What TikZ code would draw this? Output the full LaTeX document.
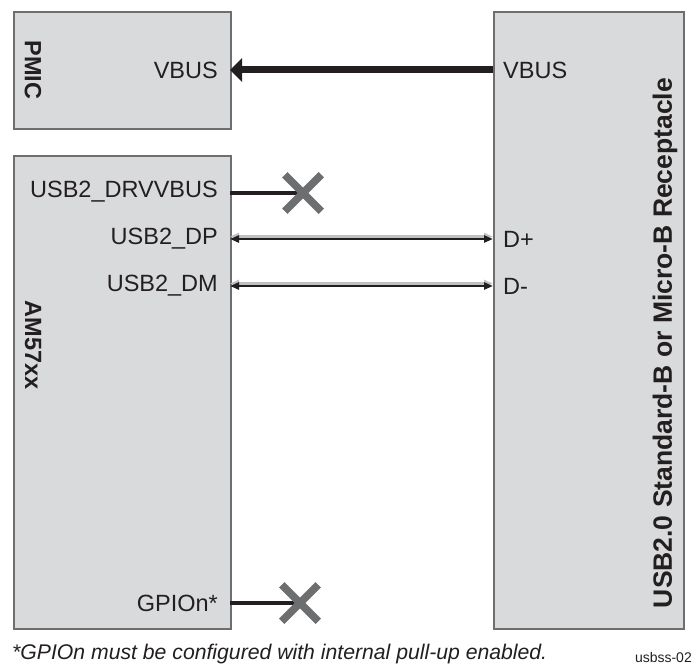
\documentclass[tikz,border=0pt]{standalone}
\usepackage{fontspec}
\setmainfont{Liberation Sans}
\usetikzlibrary{positioning,arrows.meta,shapes.misc}
\definecolor{boxfill}{HTML}{D9DADB}
\definecolor{boxline}{HTML}{6D6E70}
\definecolor{wire}{HTML}{231F20}
\definecolor{ncgray}{HTML}{6D6E70}
\definecolor{shade}{HTML}{BFC0C2}

\begin{document}
\begin{tikzpicture}[x=1pt,y=-1pt,>={Triangle[length=9pt,width=7pt]},
  block/.style={draw=boxline,fill=boxfill,line width=2pt,inner sep=0pt,anchor=north west},
  pinlabel/.style={font=\fontsize{23.5}{28}\selectfont,text=wire,inner sep=0pt},
  title/.style={font=\bfseries\fontsize{23.5}{28}\selectfont,text=wire,inner sep=0pt},
  nc/.style={cross out,draw=ncgray,line width=7.5pt,minimum size=29pt,inner sep=0pt},
  sig/.style={draw=wire,line width=2.2pt,<->},
  sigshade/.style={draw=shade,line width=2.2pt,<->}]
\useasboundingbox (0,0) rectangle (699,666);
% blocks
\node[block,minimum width=217pt,minimum height=117pt] (pmic) at (13,11) {};
\node[block,minimum width=217pt,minimum height=473pt] (soc) at (13,155) {};
\node[block,minimum width=190pt,minimum height=617pt] (recep) at (493,11) {};
\node[title,rotate=-90] at (33,70) {PMIC};
\node[title,rotate=-90] at (33,345) {AM57xx};
\node[title,rotate=90,font=\bfseries\fontsize{26.5}{30}\selectfont] at (665,343) {USB2.0 Standard-B or Micro-B Receptacle};
% pins
\coordinate (pmicvbus) at (230,70);
\coordinate (drvvbus) at (230,193);
\coordinate (dp) at (230,239);
\coordinate (dm) at (230,286);
\coordinate (gpio) at (230,603);
\coordinate (rvbus) at (493,70);
\coordinate (rdp) at (493,239);
\coordinate (rdm) at (493,286);
\node[pinlabel,anchor=east] at (218,70) {VBUS};
\node[pinlabel,anchor=east] at (218,192) {USB2\_DRVVBUS};
\node[pinlabel,anchor=east] at (218,239) {USB2\_DP};
\node[pinlabel,anchor=east] at (218,286) {USB2\_DM};
\node[pinlabel,anchor=east] at (218,603) {GPIOn*};
\node[pinlabel,anchor=west] at (503,70) {VBUS};
\node[pinlabel,anchor=west] at (503,239) {D+};
\node[pinlabel,anchor=west] at (503,286) {D-};
% connectors
\draw[wire,line width=7pt,-{Triangle[length=12pt,width=23pt]}] (rvbus) -- (pmicvbus);
\draw[sigshade] ([yshift=2.5pt]dp) -- ([yshift=2.5pt]rdp);
\draw[sigshade] ([yshift=2.5pt]dm) -- ([yshift=2.5pt]rdm);
\draw[sig] (dp) -- (rdp);
\draw[sig] (dm) -- (rdm);
\coordinate (nc1) at (303,193);
\coordinate (nc2) at (300,603);
\draw[wire,line width=3.5pt] (drvvbus) -- (nc1);
\draw[wire,line width=3.5pt] (gpio) -- (nc2);
\node[nc] (x1) at (nc1) {};
\node[nc] (x2) at (nc2) {};
% notes
\node[pinlabel,anchor=west,font=\itshape\fontsize{21.2}{25}\selectfont] (note) at (12,654) {*GPIOn must be configured with internal pull-up enabled.};
\node[pinlabel,anchor=east,font=\fontsize{14}{16}\selectfont] (figid) at (692,657) {usbss-02};
\end{tikzpicture}
\end{document}
